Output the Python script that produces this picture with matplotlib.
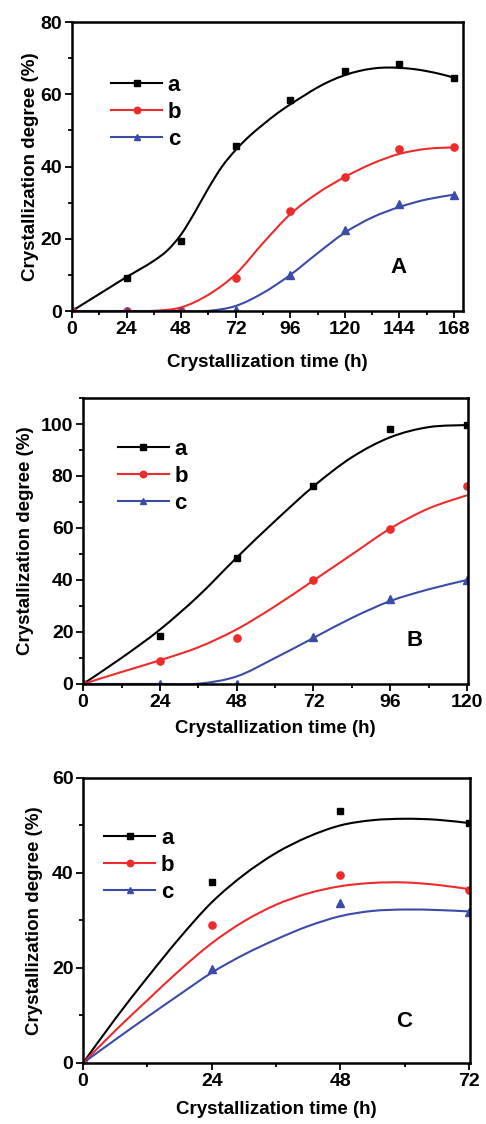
import numpy as np
import matplotlib
matplotlib.use('Agg')
import matplotlib.pyplot as plt
from matplotlib.path import Path
from matplotlib.patches import PathPatch
from matplotlib.ticker import MultipleLocator
from matplotlib.lines import Line2D

plt.rcParams['font.family'] = ['Liberation Sans', 'DejaVu Sans']
plt.rcParams['font.weight'] = 'bold'

RED = '#ee2b2b'
BLUE = '#3b4ba8'
labels = ['a', 'b', 'c']
colors = ['black', RED, BLUE]
markers = ['s', 'o', '^']
msizes = [4.4, 5.2, 5.4]

# ---- panel A: measured points ----
A_t = [0, 24, 48, 72, 96, 120, 144, 168]
A_a = [0, 9.2, 19.3, 45.8, 58.5, 66.4, 68.4, 64.6]
A_b = [0, 0, 0, 9.1, 27.7, 37.1, 44.8, 45.3]
A_c = [0, 0, 0, 0.3, 10.0, 22.3, 29.6, 32.2]
# panel A: fitted curves
A_fta = [0, 6, 12, 18, 24, 30, 36, 42, 48, 54, 60, 66, 72, 78, 84, 90, 96,
         102, 108, 114, 120, 126, 132, 138, 144, 150, 156, 162, 168]
A_fa = [0, 2.35, 4.7, 7.05, 9.4, 11.6, 13.9, 16.8, 21.2, 27.3, 34.0, 40.0,
        44.6, 48.4, 51.6, 54.6, 57.2, 59.6, 61.9, 63.8, 65.3, 66.4, 67.1,
        67.4, 67.3, 67.0, 66.4, 65.6, 64.6]
A_ft = [0, 12, 24, 36, 48, 60, 72, 84, 96, 108, 120, 132, 144, 156, 168]
A_fb = [0, 0, 0, 0.05, 1.0, 4.5, 10.2, 18.8, 26.8, 32.6, 37.1, 40.8, 43.5, 44.9, 45.3]
A_fc = [0, 0, 0, 0, 0, 0.05, 1.4, 5.0, 10.0, 16.0, 21.7, 25.9, 28.8, 30.9, 32.2]

# ---- panel B ----
B_t = [0, 24, 48, 72, 96, 120]
B_a = [0, 18.4, 48.6, 76.0, 98.2, 99.7]
B_b = [0, 8.7, 17.7, 39.8, 59.8, 76.3]
B_c = [0, 0, 0, 18.0, 32.7, 40.0]
B_ft = [0, 12, 24, 36, 48, 60, 72, 84, 96, 108, 120]
B_fa = [0, 10.0, 20.9, 33.8, 48.6, 62.7, 76.0, 87.2, 94.9, 98.8, 99.6]
B_fb = [0, 4.6, 9.1, 14.1, 21.0, 29.9, 39.8, 49.8, 59.8, 67.5, 72.6]
B_fc = [0, 0, 0, 0.1, 2.9, 10.0, 17.7, 25.4, 31.9, 36.4, 40.0]

# ---- panel C ----
C_t = [0, 24, 48, 72]
C_a = [0, 38.0, 53.0, 50.5]
C_b = [0, 29.1, 39.6, 36.5]
C_c = [0, 19.7, 33.6, 31.8]
C_ft = [0, 6, 12, 18, 24, 30, 36, 42, 48, 54, 60, 66, 72]
C_fa = [0, 9.3, 18.0, 26.3, 33.8, 39.6, 44.2, 47.6, 50.0, 51.1, 51.4, 51.2, 50.5]
C_fb = [0, 6.8, 13.2, 19.5, 25.2, 29.8, 33.3, 35.7, 37.2, 37.9, 38.0, 37.5, 36.6]
C_fc = [0, 4.9, 9.7, 14.4, 19.0, 22.8, 26.0, 28.8, 30.9, 32.0, 32.3, 32.2, 31.9]


def smooth_path(xs, ys):
    # catmull-rom through the read curve samples, drawn as bezier segments
    pts = np.column_stack([np.asarray(xs, float), np.asarray(ys, float)])
    n = len(pts)
    verts = [pts[0]]
    codes = [Path.MOVETO]
    for i in range(n - 1):
        p0 = pts[i - 1] if i > 0 else pts[i]
        p1 = pts[i]
        p2 = pts[i + 1]
        p3 = pts[i + 2] if i + 2 < n else pts[i + 1]
        verts += [p1 + (p2 - p0) / 6, p2 - (p3 - p1) / 6, p2]
        codes += [Path.CURVE4] * 3
    return Path(verts, codes)


def panel(ax, t, pts, fts, fits, xmax, ymax, tag, leg_xy, ylab_x, xlab_y):
    for y, ft, fy, col, mk, ms in zip(pts, fts, fits, colors, markers, msizes):
        ax.add_patch(PathPatch(smooth_path(ft, fy), facecolor='none',
                               edgecolor=col, lw=1.5))
        ax.plot(t, y, ls='none', marker=mk, color=col, ms=ms)
    ax.set_xlim(0, xmax)
    ax.set_ylim(0, ymax)
    ax.xaxis.set_major_locator(MultipleLocator(24))
    ax.xaxis.set_minor_locator(MultipleLocator(12))
    ax.yaxis.set_major_locator(MultipleLocator(20))
    ax.yaxis.set_minor_locator(MultipleLocator(10))
    ax.tick_params(which='both', direction='out', top=False, right=False,
                   width=1.3, labelsize=14, pad=2)
    ax.tick_params(which='major', length=5)
    ax.tick_params(which='minor', length=3)
    for lab in ax.get_xticklabels() + ax.get_yticklabels():
        lab.set_fontweight('bold')
    for s in ax.spines.values():
        s.set_linewidth(1.8)
    ax.set_xlabel('Crystallization time (h)', fontsize=13.5,
                  fontweight='bold', va='center')
    ax.set_ylabel('Crystallization degree (%)', fontsize=13.5,
                  fontweight='bold', va='center')
    ax.xaxis.set_label_coords(0.5, xlab_y)
    ax.yaxis.set_label_coords(ylab_x, 0.5)
    ax.text(tag[1], tag[2], tag[0], transform=ax.transAxes, fontsize=16,
            fontweight='bold', ha='center', va='center')
    handles = [Line2D([], [], color=c, marker=m, ms=ms * 0.9, lw=1.5)
               for c, m, ms in zip(colors, markers, msizes)]
    ax.legend(handles, labels, loc='upper left', bbox_to_anchor=leg_xy,
              frameon=False, prop={'size': 16, 'weight': 'bold'},
              handlelength=2.3, handletextpad=0.25,
              labelspacing=0.28, borderpad=0, borderaxespad=0)


fig = plt.figure(figsize=(4.86, 11.24), dpi=100)
axA = fig.add_axes([0.148, 0.7233, 0.805, 0.2571])
axB = fig.add_axes([0.171, 0.3915, 0.792, 0.2544])
axC = fig.add_axes([0.171, 0.0543, 0.796, 0.2536])

panel(axA, A_t, [A_a, A_b, A_c], [A_fta, A_ft, A_ft], [A_fa, A_fb, A_fc],
      172, 80, ('A', 0.834, 0.149), (0.10, 0.818), -0.105, -0.178)
panel(axB, B_t, [B_a, B_b, B_c], [B_ft] * 3, [B_fa, B_fb, B_fc],
      120.3, 110, ('B', 0.862, 0.151), (0.09, 0.858), -0.15, -0.157)
panel(axC, C_t, [C_a, C_b, C_c], [C_ft] * 3, [C_fa, C_fb, C_fc],
      72.2, 60, ('C', 0.829, 0.145), (0.055, 0.826), -0.125, -0.165)

fig.savefig('out.png', dpi=100)
